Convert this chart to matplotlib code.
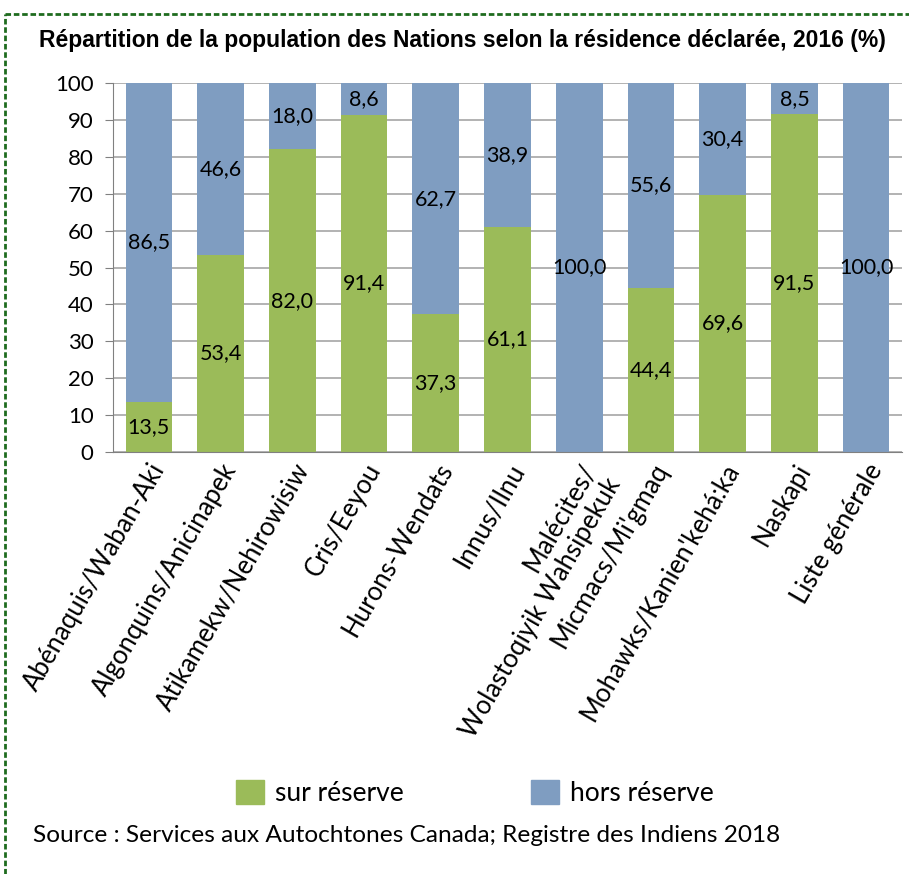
import matplotlib.pyplot as plt
from matplotlib.lines import Line2D
from matplotlib.patches import Patch
import numpy as np

# Données
nations = ["Abénaquis/Waban-Aki", "Algonquins/Anicinapek", "Atikamekw/Nehirowisiw",
           "Cris/Eeyou", "Hurons-Wendats", "Innus/Ilnu",
           "Malécites/\nWolastoqiyik Wahsipekuk", "Micmacs/Mi'gmaq",
           "Mohawks/Kanien'kehá:ka", "Naskapi", "Liste générale"]
sur_reserve = [13.5, 53.4, 82.0, 91.4, 37.3, 61.1, 0.0, 44.4, 69.6, 91.5, 0.0]
hors_reserve = [86.5, 46.6, 18.0, 8.6, 62.7, 38.9, 100.0, 55.6, 30.4, 8.5, 100.0]

vert = "#9BBB59"
bleu = "#7F9DC1"
police = "Lato"

fig = plt.figure(figsize=(9.09, 8.74), dpi=100)
ax = fig.add_axes([113 / 909, 1 - 452 / 874, (902 - 113) / 909, (452 - 83) / 874])

x = np.arange(len(nations))
larg = 0.65
ax.bar(x, sur_reserve, larg, color=vert, zorder=2)
ax.bar(x, hors_reserve, larg, bottom=sur_reserve, color=bleu, zorder=2)


def fmt(v):
    return f"{v:.1f}".replace(".", ",")


for i in range(len(nations)):
    if sur_reserve[i] > 0:
        ax.text(x[i], sur_reserve[i] / 2, fmt(sur_reserve[i]), ha="center", va="center",
                fontsize=15.5, family=police, zorder=3)
    ax.text(x[i], sur_reserve[i] + hors_reserve[i] / 2, fmt(hors_reserve[i]), ha="center",
            va="center", fontsize=15.5, family=police, zorder=3)

ax.set_xlim(-0.5, len(nations) - 0.5)
ax.set_ylim(0, 100)
ax.set_yticks(range(0, 101, 10))
ax.yaxis.grid(True, color="#A6A6A6", linewidth=1.2, zorder=0)
ax.set_axisbelow(True)
for s in ["top", "right"]:
    ax.spines[s].set_visible(False)
ax.spines["left"].set_color("#808080")
ax.spines["bottom"].set_color("#808080")
ax.tick_params(axis="y", length=6, color="#808080", labelsize=16, pad=8)
ax.tick_params(axis="x", length=0, pad=5)
for t in ax.get_yticklabels():
    t.set_family(police)
ax.set_xticks(x)
ax.set_xticklabels(nations, rotation=60, ha="right", rotation_mode="anchor",
                   fontsize=18.5, family=police)

fig.text(462 / 909, 1 - 40 / 874,
         "Répartition de la population des Nations selon la résidence déclarée, 2016 (%)",
         ha="center", va="center", fontsize=16.5, fontweight="bold", family="Liberation Sans")

handles = [Patch(color=vert), Patch(color=bleu)]
fig.legend(handles, ["sur réserve", "hors réserve"], loc="center",
           bbox_to_anchor=(475 / 909, 1 - 793 / 874), ncol=2, frameon=False,
           prop={"family": police, "size": 19}, handlelength=1.05, handleheight=1.0,
           columnspacing=4.8, handletextpad=0.45)

fig.text(33 / 909, 1 - 835 / 874, "Source : Services aux Autochtones Canada; Registre des Indiens 2018",
         ha="left", va="center", fontsize=17.6, family="Lato")

# bordure verte pointillée
fig.add_artist(Line2D([5 / 909, 5 / 909], [0, 1 - 14 / 874], transform=fig.transFigure,
                      color="#1E6B1E", linewidth=2, linestyle=(0, (2, 1))))
fig.add_artist(Line2D([5 / 909, 1], [1 - 14 / 874, 1 - 14 / 874], transform=fig.transFigure,
                      color="#1E6B1E", linewidth=2, linestyle=(0, (2, 1))))

fig.savefig("out.png", dpi=100)
